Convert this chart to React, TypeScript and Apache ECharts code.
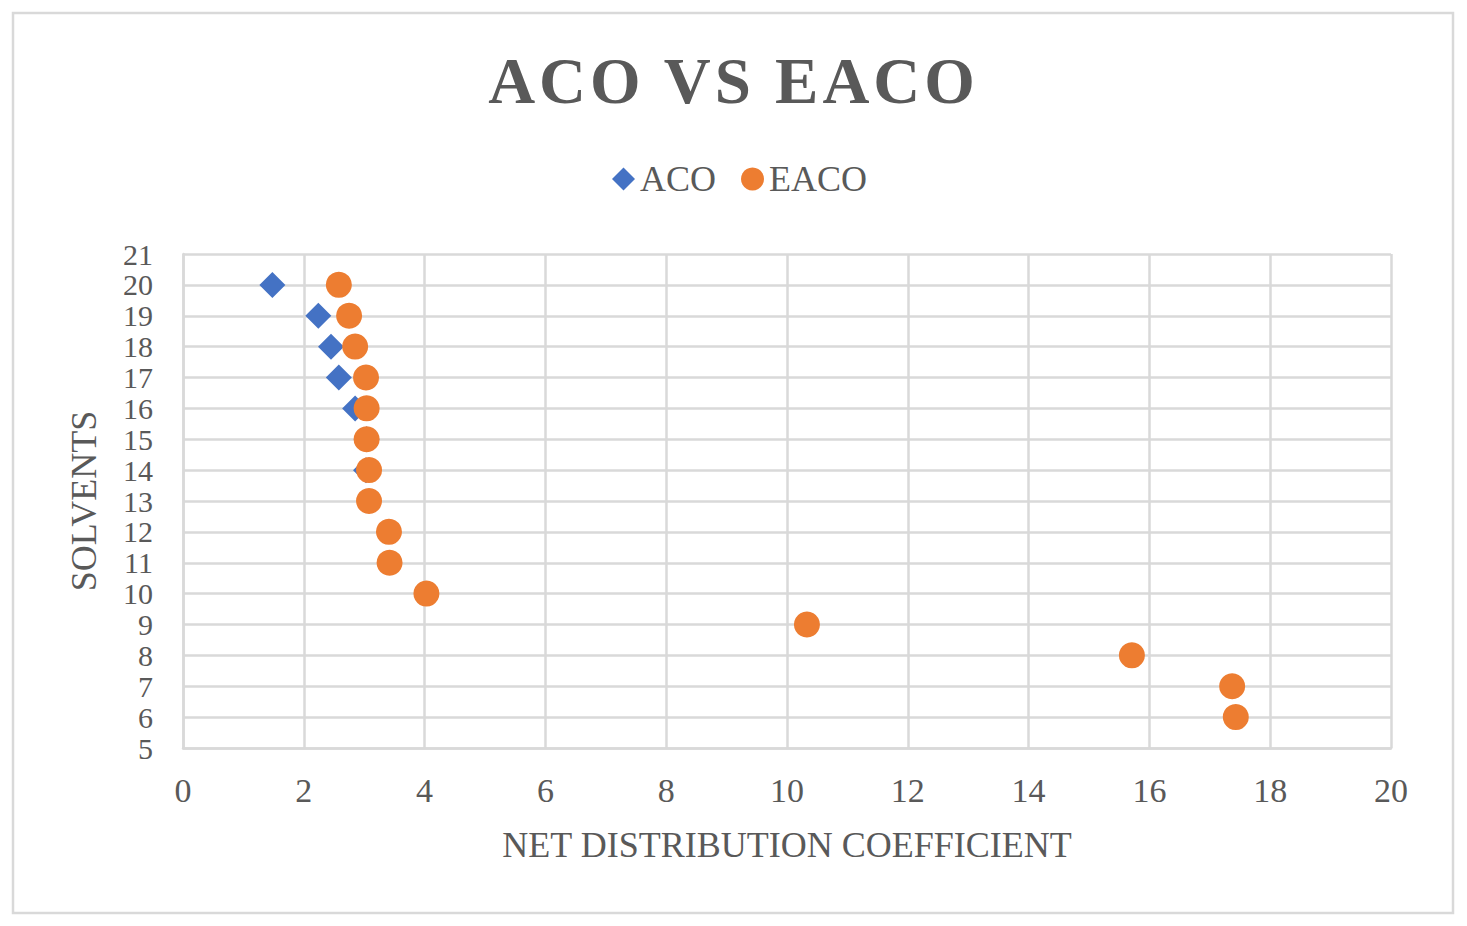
import React, { useEffect, useRef } from "react";
import * as echarts from "echarts";

const solventsACO = [20, 19, 18, 17, 16, 15, 14];
const valuesACO = [1.48, 2.24, 2.45, 2.58, 2.85, 3.04, 3.03];

const solventsEACO = [20, 19, 18, 17, 16, 15, 14, 13, 12, 11, 10, 9, 8, 7, 6];
const valuesEACO = [2.58, 2.75, 2.85, 3.03, 3.04, 3.04, 3.08, 3.08, 3.41, 3.42, 4.03, 10.33, 15.71, 17.37, 17.43];

const titleText = "ACO VS EACO";
const xName = "NET DISTRIBUTION COEFFICIENT";
const yName = "SOLVENTS";

const FONT = '"Liberation Serif", "Times New Roman", serif';
const GRAY = "#595959";
const LINE = "#d9d9d9";

export default function App() {
  const ref = useRef<HTMLDivElement>(null);

  useEffect(() => {
    document.body.style.margin = "0";
    if (!ref.current) return;
    const chart = echarts.init(ref.current, null, { renderer: "svg" });

    const applySpacing = () => {
      const texts = ref.current?.querySelectorAll("text") || [];
      texts.forEach((t) => {
        if (t.textContent === titleText) {
          (t as SVGTextElement).style.letterSpacing = "4px";
        }
      });
    };

    chart.setOption({
      animation: false,
      backgroundColor: "#ffffff",
      title: {
        text: titleText,
        left: "center",
        top: 43,
        textStyle: {
          fontFamily: FONT,
          fontSize: 65,
          fontWeight: "bold",
          color: GRAY,
        },
      },
      legend: {
        top: 156,
        left: 607,
        itemWidth: 23,
        itemHeight: 23,
        itemGap: 25,
        textStyle: { fontFamily: FONT, fontSize: 36, color: GRAY },
        data: [
          { name: "ACO", icon: "diamond" },
          { name: "EACO", icon: "circle" },
        ],
      },
      graphic: [
        {
          type: "rect",
          shape: { x: 13, y: 13, width: 1440, height: 900 },
          style: { fill: "none", stroke: LINE, lineWidth: 2.5 },
          silent: true,
          z: -1,
        },
      ],
      grid: { left: 183, top: 254, width: 1208, height: 494, containLabel: false },
      xAxis: {
        type: "value",
        min: 0,
        max: 20,
        interval: 2,
        name: xName,
        nameLocation: "middle",
        nameGap: 79,
        nameTextStyle: { fontFamily: FONT, fontSize: 36, color: GRAY },
        axisLine: { show: true, lineStyle: { color: LINE, width: 2.5 } },
        axisTick: { show: false },
        splitLine: { show: true, lineStyle: { color: LINE, width: 2.5 } },
        axisLabel: {
          fontFamily: FONT,
          fontSize: 34,
          color: GRAY,
          margin: 25,
          showMinLabel: true,
          showMaxLabel: true,
        },
      },
      yAxis: {
        type: "value",
        min: 5,
        max: 21,
        interval: 1,
        name: yName,
        nameLocation: "middle",
        nameGap: 81,
        nameRotate: 90,
        nameTextStyle: { fontFamily: FONT, fontSize: 36, color: GRAY },
        axisLine: { show: true, lineStyle: { color: LINE, width: 2.5 } },
        axisTick: { show: false },
        splitLine: { show: true, lineStyle: { color: LINE, width: 2.5 } },
        axisLabel: {
          fontFamily: FONT,
          fontSize: 30,
          lineHeight: 30,
          color: GRAY,
          margin: 30,
          showMinLabel: true,
          showMaxLabel: true,
          hideOverlap: false,
        },
      },
      series: [
        {
          name: "ACO",
          type: "scatter",
          symbol: "diamond",
          symbolSize: 26,
          itemStyle: { color: "#4472C4", opacity: 1 },
          data: valuesACO.map((v, i) => [v, solventsACO[i]]),
        },
        {
          name: "EACO",
          type: "scatter",
          symbol: "circle",
          symbolSize: 26,
          itemStyle: { color: "#ED7D31", opacity: 1 },
          data: valuesEACO.map((v, i) => [v, solventsEACO[i]]),
        },
      ],
    });

    applySpacing();
    chart.on("finished", applySpacing);
    const timer = setTimeout(applySpacing, 50);

    return () => {
      clearTimeout(timer);
      chart.dispose();
    };
  }, []);

  return <div ref={ref} style={{ width: 1467, height: 926 }} />;
}
